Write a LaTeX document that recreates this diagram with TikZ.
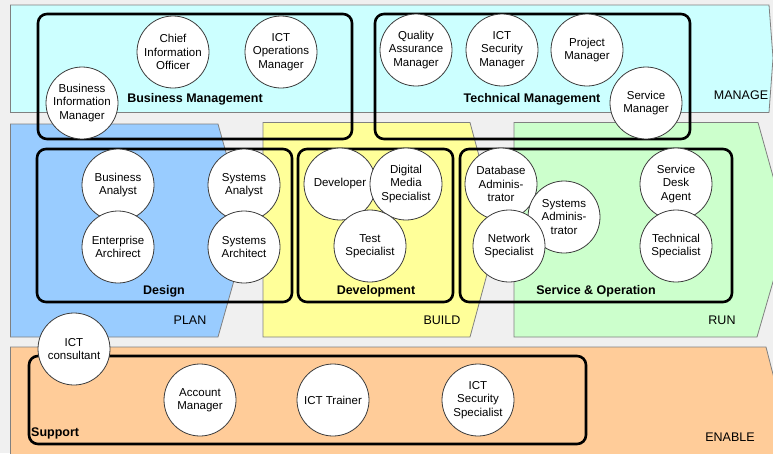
\documentclass[tikz,border=0pt]{standalone}
\usepackage{fontspec}
\setmainfont{Liberation Sans}
\definecolor{bgc}{RGB}{240,240,240}
\definecolor{manc}{RGB}{204,255,255}
\definecolor{planc}{RGB}{153,204,255}
\definecolor{buildc}{RGB}{255,255,153}
\definecolor{runc}{RGB}{204,255,204}
\definecolor{enac}{RGB}{255,204,153}
\definecolor{bandline}{RGB}{128,128,128}
\definecolor{circline}{RGB}{60,60,60}
\tikzset{
  band/.style={draw=bandline, line width=0.8pt},
  group/.style={draw=black, line width=2.6pt, rounded corners=9pt},
  role/.style={circle, draw=circline, line width=0.8pt, fill=white, minimum size=72pt, inner sep=0pt, align=center, font=\fontsize{11.5}{13.5}\selectfont},
  grouplabel/.style={font=\fontsize{12.5}{14}\selectfont\bfseries, inner sep=0pt},
  bandlabel/.style={font=\fontsize{12.5}{14}\selectfont, inner sep=0pt}
}
\begin{document}
\begin{tikzpicture}[x=1pt,y=-1pt]
\useasboundingbox (0,0) rectangle (773,453);
\fill[bgc] (0,0) rectangle (773,453);
\begin{scope}
\clip (0,0) rectangle (773,453);
% bands
\draw[band, fill=manc] (10.5,5) -- (769,5) -- (773,58) -- (769,112.5) -- (10.5,112.5) -- cycle;
\draw[band, fill=planc] (10.5,124) -- (218,124) -- (248,231) -- (218,337) -- (10.5,337) -- cycle;
\draw[band, fill=buildc] (263,122.5) -- (470,122.5) -- (499,230) -- (470,337) -- (263,337) -- cycle;
\draw[band, fill=runc] (514,122.5) -- (758,122.5) -- (788,230) -- (757,337) -- (514,337) -- cycle;
\draw[band, fill=enac] (10.5,347) -- (766,347) -- (795,460) -- (10.5,460) -- cycle;
\end{scope}
% group frames
\draw[group] (38,14) rectangle (352,139);
\draw[group] (375,14) rectangle (690,139);
\draw[group] (37,149) rectangle (292,302);
\draw[group] (298,149) rectangle (453,302);
\draw[group] (460,149) rectangle (732,302);
\draw[group] (29,356) rectangle (586,444);
% group labels
\node[grouplabel] (lbm) at (195,99) {Business Management};
\node[grouplabel] (ltm) at (532,99) {Technical Management};
\node[grouplabel] (ldes) at (164,291) {Design};
\node[grouplabel] (ldev) at (376,291) {Development};
\node[grouplabel] (lso) at (596,291) {Service \& Operation};
\node[grouplabel, anchor=west] (lsup) at (31,433) {Support};
% band labels
\node[bandlabel] (lman) at (741,95) {MANAGE};
\node[bandlabel] (lplan) at (190,320) {PLAN};
\node[bandlabel] (lbuild) at (442,320) {BUILD};
\node[bandlabel] (lrun) at (722,320) {RUN};
\node[bandlabel] (lena) at (730,437) {ENABLE};
% roles - management
\node[role] (cio) at (173,52) {Chief\\Information\\Officer};
\node[role] (icom) at (281,52) {ICT\\Operations\\Manager};
\node[role] (bim) at (82,103) {Business\\Information\\Manager};
\node[role] (qam) at (416,50) {Quality\\Assurance\\Manager};
\node[role] (icsm) at (502,50) {ICT\\Security\\Manager};
\node[role] (pm) at (587,50) {Project\\Manager};
\node[role] (sm) at (646,103) {Service\\Manager};
% design
\node[role] (ba) at (118,185) {Business\\Analyst};
\node[role] (ea) at (118,247) {Enterprise\\Archirect};
\node[role] (sa) at (244,185) {Systems\\Analyst};
\node[role] (sar) at (244,247) {Systems\\Architect};
% development
\node[role] (dev) at (340,184) {Developer};
\node[role] (dms) at (406,184) {Digital\\Media\\Specialist};
\node[role] (ts) at (370,246) {Test\\Specialist};
% service & operation
\node[role] (dba) at (501,184) {Database\\Adminis-\\trator};
\node[role] (sya) at (564,217) {Systems\\Adminis-\\trator};
\node[role] (ns) at (509,246) {Network\\Specialist};
\node[role] (sda) at (676,184) {Service\\Desk\\Agent};
\node[role] (tes) at (676,246) {Technical\\Specialist};
% support
\node[role] (icc) at (74,349) {ICT\\consultant};
\node[role] (am) at (200,400) {Account\\Manager};
\node[role] (ict) at (333,400) {ICT Trainer};
\node[role] (icss) at (478,400) {ICT\\Security\\Specialist};
\end{tikzpicture}
\end{document}
